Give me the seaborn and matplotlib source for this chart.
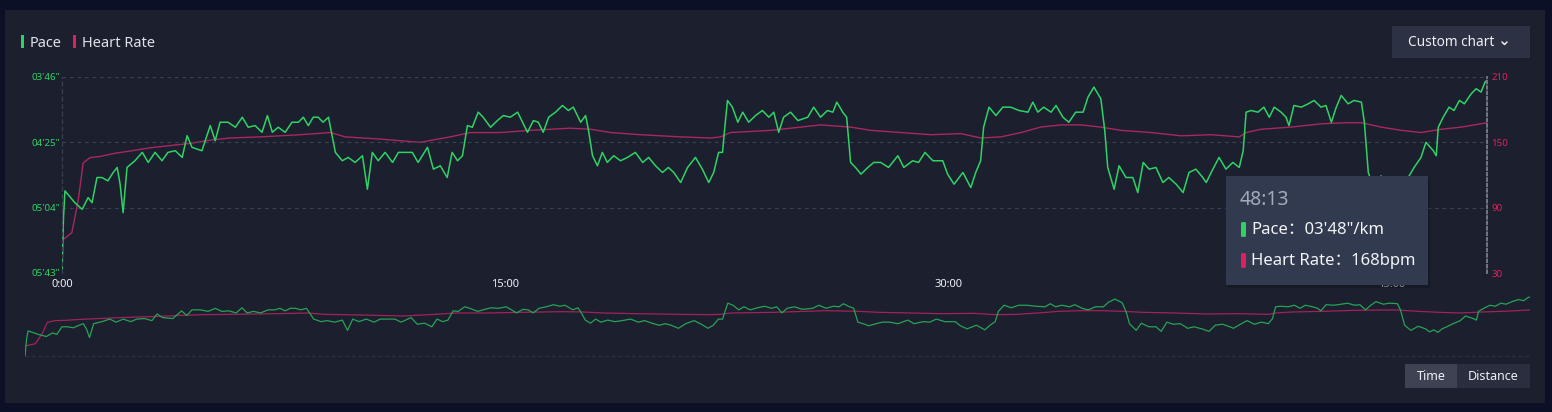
import numpy as np
import pandas as pd
import matplotlib
matplotlib.use("Agg")
import matplotlib.pyplot as plt
from matplotlib.patches import Rectangle, Patch, FancyBboxPatch
from matplotlib.lines import Line2D
import seaborn as sns

# ---------------- data ----------------
pace_time = [
    0, 3, 6, 26, 41, 53, 61, 71, 81, 93,
    104, 112, 118, 124, 132, 148, 163, 175, 189, 203,
    215, 230, 244, 254, 264, 284, 301, 311, 321, 337,
    352, 366, 378, 392, 406, 417, 427, 439, 453, 467,
    480, 490, 500, 510, 520, 530, 541, 549, 555, 569,
    581, 595, 610, 620, 630, 642, 656, 671, 683, 697,
    711, 723, 742, 754, 768, 782, 792, 803, 813, 823,
    833, 845, 855, 870, 884, 896, 910, 925, 935, 945,
    957, 967, 977, 988, 1002, 1016, 1028, 1038, 1053, 1063,
    1069, 1077, 1087, 1097, 1107, 1120, 1134, 1148, 1164, 1179,
    1191, 1205, 1219, 1231, 1242, 1256, 1270, 1286, 1300, 1313,
    1323, 1333, 1341, 1345, 1351, 1361, 1372, 1382, 1394, 1408,
    1422, 1435, 1445, 1455, 1465, 1479, 1494, 1514, 1526, 1540,
    1554, 1565, 1573, 1585, 1593, 1601, 1611, 1622, 1636, 1648,
    1662, 1678, 1697, 1709, 1727, 1739, 1752, 1768, 1788, 1798,
    1811, 1829, 1845, 1855, 1865, 1871, 1882, 1896, 1910, 1926,
    1943, 1961, 1971, 1981, 1993, 2008, 2018, 2032, 2044, 2058,
    2073, 2083, 2095, 2109, 2117, 2123, 2136, 2146, 2160, 2174,
    2184, 2195, 2207, 2221, 2235, 2247, 2262, 2276, 2288, 2302,
    2316, 2323, 2333, 2349, 2363, 2377, 2390, 2398, 2404, 2414,
    2428, 2440, 2451, 2461, 2475, 2485, 2491, 2501, 2516, 2530,
    2542, 2556, 2566, 2577, 2587, 2597, 2611, 2623, 2638, 2644,
    2652, 2664, 2678, 2692, 2700, 2708, 2716, 2724, 2733, 2745,
    2759, 2769, 2784, 2790, 2794, 2804, 2816, 2826, 2837, 2847,
    2861, 2871, 2881, 2889, 2893,
]
pace_sec = [
    343, 310, 294, 301, 305, 298, 301, 286, 286, 288,
    283, 280, 290, 307, 280, 276, 271, 277, 271, 276,
    271, 270, 274, 261, 268, 270, 255, 264, 253, 253,
    256, 250, 256, 255, 259, 249, 259, 256, 259, 253,
    253, 250, 255, 250, 250, 253, 250, 262, 271, 276,
    274, 277, 273, 293, 271, 276, 271, 277, 271, 271,
    271, 277, 268, 281, 279, 286, 271, 276, 273, 255,
    256, 247, 250, 256, 252, 249, 250, 247, 253, 259,
    252, 253, 259, 250, 247, 243, 246, 244, 253, 249,
    258, 273, 279, 271, 277, 273, 276, 274, 271, 277,
    274, 279, 283, 280, 283, 289, 280, 274, 281, 289,
    283, 271, 271, 258, 240, 244, 253, 247, 253, 249,
    246, 250, 247, 259, 250, 247, 252, 250, 244, 250,
    246, 247, 241, 247, 250, 277, 280, 284, 280, 277,
    277, 280, 273, 280, 276, 277, 271, 276, 276, 284,
    290, 283, 292, 283, 276, 256, 244, 249, 244, 244,
    246, 247, 241, 247, 244, 247, 243, 250, 253, 247,
    247, 238, 232, 239, 258, 280, 293, 279, 286, 286,
    295, 277, 281, 280, 289, 286, 290, 295, 283, 281,
    286, 289, 283, 274, 281, 277, 280, 270, 247, 246,
    247, 244, 250, 244, 247, 250, 255, 243, 244, 242,
    240, 244, 243, 253, 244, 237, 242, 240, 241, 253,
    283, 293, 285, 290, 296, 292, 297, 290, 286, 280,
    274, 265, 270, 273, 256, 250, 244, 246, 240, 242,
    236, 233, 235, 229, 228,
]
hr_time = [
    0, 20, 33, 43, 57, 77, 108, 138, 179, 219,
    260, 301, 341, 402, 484, 545, 575, 646, 727, 788,
    829, 890, 951, 1032, 1073, 1114, 1175, 1256, 1317, 1337,
    1357, 1439, 1500, 1540, 1601, 1642, 1703, 1764, 1825, 1865,
    1906, 1947, 1987, 2028, 2069, 2109, 2150, 2211, 2272, 2333,
    2390, 2404, 2434, 2495, 2556, 2607, 2638, 2678, 2719, 2759,
    2800, 2841, 2893,
]
hr_bpm = [
    60, 67, 97, 131, 136, 137, 140, 142, 145, 147,
    149, 152, 154, 155, 157, 159, 155, 153, 150, 155,
    159, 159, 161, 163, 162, 159, 157, 155, 154, 155,
    159, 161, 164, 166, 164, 161, 159, 157, 158, 154,
    155, 159, 164, 166, 166, 164, 161, 159, 156, 157,
    155, 159, 162, 164, 167, 168, 168, 164, 161, 159,
    162, 164, 168,
]
pace_ticks = [226, 265, 304, 343]
pace_tick_labels = ["03'46\"", "04'25\"", "05'04\"", "05'43\""]
hr_ticks = [30, 90, 150, 210]
time_ticks = [0, 900, 1800, 2700]
time_tick_labels = ["0:00", "15:00", "30:00", "45:00"]
series_names = ["Pace", "Heart Rate"]

# ---------------- style ----------------
sns.set_theme(style="dark")
plt.rcParams["font.family"] = ["Noto Sans", "Noto Sans CJK SC", "DejaVu Sans"]

W, H = 1552, 412
OUTER = "#0b1026"
PANEL = "#1b1f2e"
GRID = "#3a3f51"
GREEN = "#2fd365"
GREEN_DIM = "#27a356"
RED = "#e0205e"
RED_LINE = "#a8285f"
TXT = "#dfe2e8"


def fx(x):
    return x / W


def fy(y):
    return 1 - y / H


fig = plt.figure(figsize=(W / 100, H / 100), dpi=100, facecolor=OUTER)

# panel
fig.patches.append(Rectangle((fx(5), fy(403)), fx(1545) - fx(5), fy(10) - fy(403),
                             transform=fig.transFigure, facecolor=PANEL,
                             edgecolor="none", zorder=-10))

pace_df = pd.DataFrame({"time": pace_time, "pace": pace_sec})
hr_df = pd.DataFrame({"time": hr_time, "hr": hr_bpm})

# ---------------- main chart ----------------
ax = fig.add_axes([fx(62), fy(273), fx(1487) - fx(62), fy(77) - fy(273)])
ax2 = ax.twinx()
ax.set_zorder(ax2.get_zorder() + 1)
ax.patch.set_visible(False)
ax2.patch.set_visible(False)

sns.lineplot(data=hr_df, x="time", y="hr", ax=ax2, color=RED_LINE,
             linewidth=1.0, legend=False)
sns.lineplot(data=pace_df, x="time", y="pace", ax=ax, color=GREEN,
             linewidth=1.1, legend=False)

tmax = pace_time[-1]
ax.set_xlim(0, tmax)
ax.set_ylim(pace_ticks[-1], pace_ticks[0])
ax2.set_ylim(hr_ticks[0], hr_ticks[-1])

ax.set_yticks(pace_ticks)
ax.set_yticklabels(pace_tick_labels)
ax2.set_yticks(hr_ticks)
ax2.set_yticklabels([str(v) for v in hr_ticks])
ax.set_xticks(time_ticks)
ax.set_xticklabels(time_tick_labels)
for a in (ax, ax2):
    a.set_xlabel("")
    a.set_ylabel("")
ax.tick_params(axis="y", length=0, pad=1, labelsize=7, labelcolor=GREEN)
ax2.tick_params(axis="y", length=0, pad=3, labelsize=7, labelcolor=RED)
ax.tick_params(axis="x", length=0, pad=4, labelsize=8, labelcolor="#eef0f4")

ax.grid(axis="y", color=GRID, linestyle=(0, (3, 3)), linewidth=0.9)
ax.grid(axis="x", visible=False)
ax2.grid(False)
for s in ax2.spines.values():
    s.set_visible(False)
ax.spines["top"].set_visible(False)
ax.spines["bottom"].set_visible(False)
ax.spines["left"].set_visible(True)
ax.spines["left"].set_color(GRID)
ax.spines["left"].set_linestyle((0, (3, 3)))
ax.spines["left"].set_linewidth(0.9)
ax.spines["right"].set_visible(True)
ax.spines["right"].set_color("#7a7f8e")
ax.spines["right"].set_linestyle((0, (1.5, 1.5)))
ax.spines["right"].set_linewidth(1.3)

# ---------------- overview ----------------
ov = fig.add_axes([fx(25), fy(356), fx(1530) - fx(25), fy(296) - fy(356)])
ov2 = ov.twinx()
ov.set_zorder(ov2.get_zorder() + 1)
ov.patch.set_visible(False)
ov2.patch.set_visible(False)
sns.lineplot(data=hr_df, x="time", y="hr", ax=ov2, color="#a0245a",
             linewidth=0.9, legend=False)
sns.lineplot(data=pace_df, x="time", y="pace", ax=ov, color=GREEN_DIM,
             linewidth=0.9, legend=False)
ov.set_xlim(0, tmax)
ov.set_ylim(pace_ticks[-1], pace_ticks[0])
ov2.set_ylim(hr_ticks[0], hr_ticks[-1])
for a in (ov, ov2):
    a.set_xticks([])
    a.set_yticks([])
    a.set_xlabel("")
    a.set_ylabel("")
    a.grid(False)
    for s in a.spines.values():
        s.set_visible(False)
ov.spines["bottom"].set_visible(True)
ov.spines["bottom"].set_color("#2c3143")
ov.spines["bottom"].set_linestyle((0, (3, 3)))
ov.spines["bottom"].set_linewidth(0.8)

# ---------------- legend ----------------
handles = [Patch(facecolor=GREEN, edgecolor="none"),
           Patch(facecolor=RED, edgecolor="none")]
fig.legend(handles, series_names, loc="center left",
           bbox_to_anchor=(fx(21), fy(43)), frameon=False, ncol=2,
           handlelength=0.22, handleheight=0.9, handletextpad=0.4,
           columnspacing=0.75, fontsize=10.5, labelcolor=TXT,
           borderaxespad=0, borderpad=0)

# ---------------- custom chart button ----------------
fig.patches.append(Rectangle((fx(1392), fy(58)), fx(1530) - fx(1392), fy(26) - fy(58),
                             transform=fig.transFigure, facecolor="#2c3243",
                             edgecolor="none", zorder=2))
fig.text(fx(1408), fy(43), "Custom chart", color="#eef0f4", fontsize=9.8,
         va="center", ha="left", zorder=3)
fig.lines.append(Line2D([fx(1502), fx(1504.5), fx(1507)], [fy(42), fy(44.5), fy(42)],
                        transform=fig.transFigure, color="#eef0f4", lw=1.1, zorder=3))

# ---------------- time / distance toggle ----------------
fig.patches.append(Rectangle((fx(1405), fy(388)), fx(1457) - fx(1405), fy(364) - fy(388),
                             transform=fig.transFigure, facecolor="#3e4354",
                             edgecolor="none", zorder=2))
fig.patches.append(Rectangle((fx(1457), fy(388)), fx(1530) - fx(1457), fy(364) - fy(388),
                             transform=fig.transFigure, facecolor="#2a2f3f",
                             edgecolor="none", zorder=2))
fig.text(fx(1431), fy(376.5), "Time", color="#eef0f4", fontsize=9,
         ha="center", va="center", zorder=3)
fig.text(fx(1493.5), fy(376.5), "Distance", color="#eef0f4", fontsize=9,
         ha="center", va="center", zorder=3)

# ---------------- tooltip ----------------
last_t = pace_time[-1]
last_p = pace_sec[-1]
last_hr = hr_bpm[-1]
t_label = f"{last_t // 60}:{last_t % 60:02d}"
p_label = f"Pace：{last_p // 60:02d}'{last_p % 60:02d}\"/km"
hr_label = f"Heart Rate：{last_hr}bpm"

fig.patches.append(Rectangle((fx(1228), fy(288)), fx(1430) - fx(1228), fy(178) - fy(288),
                             transform=fig.transFigure, facecolor="#11141f",
                             alpha=0.45, edgecolor="none", zorder=9))
fig.patches.append(Rectangle((fx(1226), fy(285)), fx(1428) - fx(1226), fy(176) - fy(285),
                             transform=fig.transFigure, facecolor="#323a50",
                             edgecolor="none", zorder=10))
fig.text(fx(1240), fy(200), t_label, color="#a5aaba", fontsize=14,
         ha="left", va="center", zorder=11)
fig.patches.append(FancyBboxPatch((fx(1241), fy(237)), fx(1246) - fx(1241), fy(222) - fy(237),
                                  boxstyle="round,pad=0,rounding_size=0.002",
                                  transform=fig.transFigure, facecolor=GREEN,
                                  edgecolor="none", zorder=11))
fig.text(fx(1251), fy(230), p_label, color="#f2f4f7", fontsize=12,
         ha="left", va="center", zorder=11)
fig.patches.append(FancyBboxPatch((fx(1241), fy(268)), fx(1246) - fx(1241), fy(253) - fy(268),
                                  boxstyle="round,pad=0,rounding_size=0.002",
                                  transform=fig.transFigure, facecolor=RED,
                                  edgecolor="none", zorder=11))
fig.text(fx(1251), fy(261), hr_label, color="#f2f4f7", fontsize=12,
         ha="left", va="center", zorder=11)

fig.savefig("out.png", dpi=100, facecolor=OUTER)
